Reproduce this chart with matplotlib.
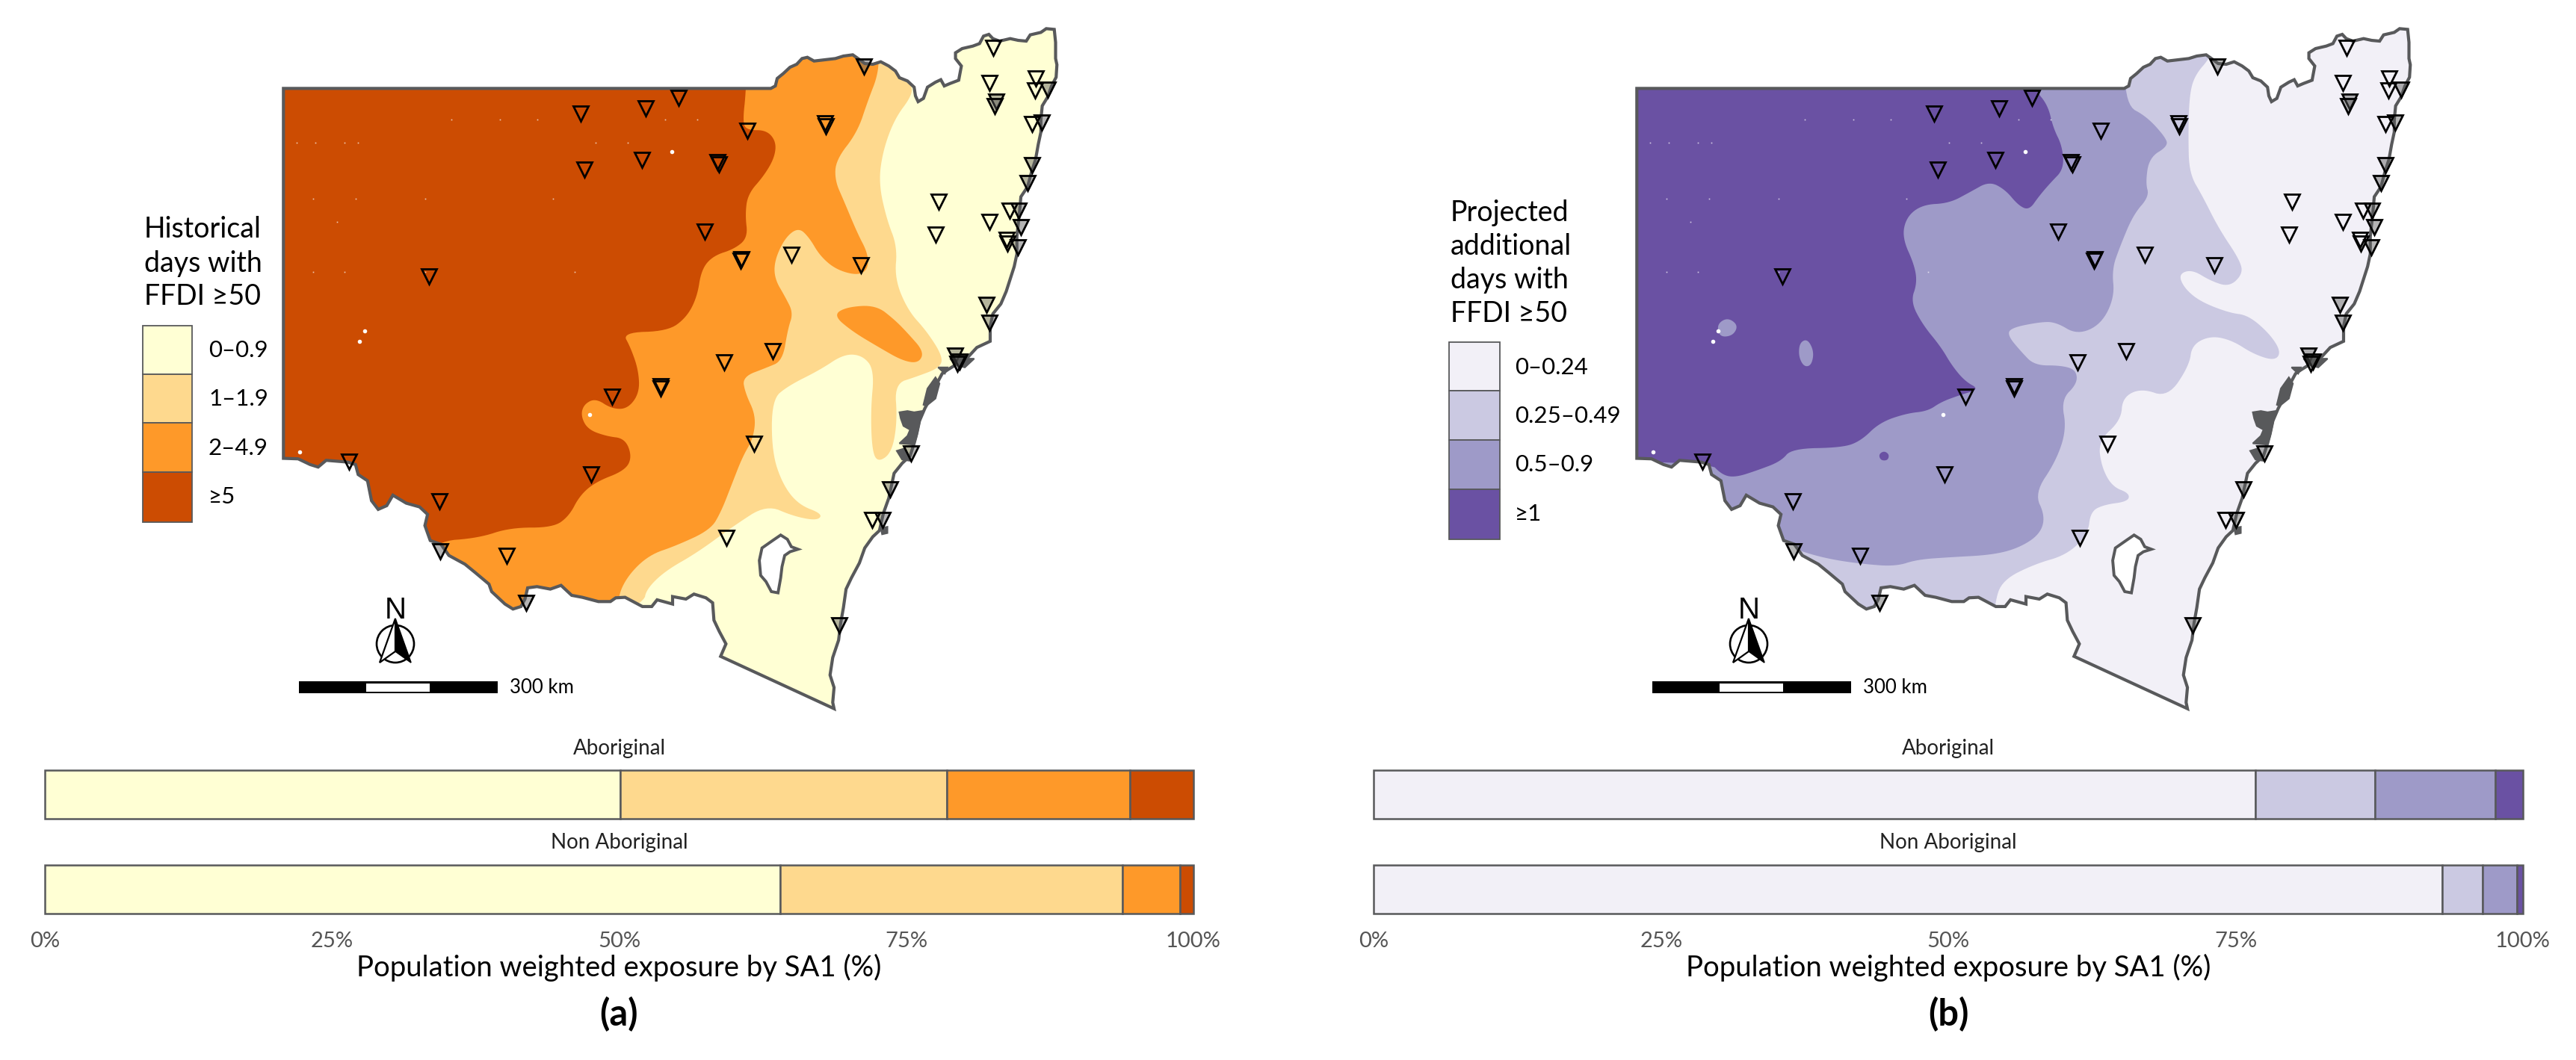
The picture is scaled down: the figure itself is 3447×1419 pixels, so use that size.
import numpy as np
import matplotlib
matplotlib.use('Agg')
import matplotlib.pyplot as plt
from matplotlib.patches import Polygon, Rectangle, Circle

plt.rcParams['font.family'] = ['Lato', 'DejaVu Sans']

W, H = 3448, 1419
GREY = '#58595b'

# exposure shares (%)
groups = ['Non Aboriginal', 'Aboriginal']
hist_aboriginal = [50.1, 28.4, 16.0, 5.5]
hist_non_aboriginal = [64.0, 29.8, 5.0, 1.2]
proj_aboriginal = [76.7, 10.4, 10.5, 2.4]
proj_non_aboriginal = [93.0, 3.5, 3.0, 0.5]
pct_ticks = [0, 25, 50, 75, 100]

hist_colors = ['#ffffd4', '#fed98e', '#fe9929', '#cc4c02']
proj_colors = ['#f2f0f7', '#cbc9e2', '#9e9ac8', '#6a51a3']
hist_labels = ['0–0.9', '1–1.9', '2–4.9', '≥5']
proj_labels = ['0–0.24', '0.25–0.49', '0.5–0.9', '≥1']

# state border traced in three crops of the map
border_ne = [(368,355),(385,345),(392,315),(415,295),(440,270),(465,258),(485,235),(505,230),(530,245),(570,240),
             (610,235),(640,225),(675,220),(695,235),(720,255),(750,258),(780,248),(810,265),(835,285),(850,312),
             (880,325),(905,350),(910,385),(920,408),(940,395),(955,350),(985,330),(1005,320),(1018,345),(1040,335),
             (1072,322),(1082,265),(1060,235),(1060,212),(1085,195),(1125,185),(1150,175),(1165,145),(1185,138),
             (1200,155),(1225,165),(1265,155),(1295,162),(1325,165),(1340,140),(1380,130),(1400,115),(1430,118),
             (1435,170),(1435,235),(1440,260),(1437,310),(1420,345),(1405,390),(1385,425),(1380,480),(1380,530),
             (1370,580),(1360,640),(1345,690),(1330,750),(1305,790),(1300,850),(1290,950),(1290,1020),(1280,1070),
             (1265,1120),(1250,1170),(1230,1220),(1200,1260),(1190,1310),(1190,1370),(1140,1395),(1110,1430)]
border_se = [(1060,25),(1030,45),(1010,60),(995,90),(985,130),(960,170),(945,200),(925,250),(915,300),(905,340),
             (890,390),(860,420),(830,460),(820,510),(810,560),(790,620),(775,690),(750,715),(720,760),(700,820),
             (670,880),(650,925),(640,1000),(630,1060),(622,1130),(600,1200),(590,1270),(605,1320),(600,1380),
             (605,1405),(180,1195),(200,1145),(175,1095),(155,1050),(150,980),(125,960),(80,945),(50,965),(0,955)]
border_sw = [(1568,985),(1510,968),(1490,995),(1455,995),(1420,975),(1390,958),(1355,960),(1335,975),(1290,975),
             (1230,958),(1190,950),(1150,910),(1110,925),(1060,915),(1025,920),(1015,965),(1000,995),(970,1005),
             (940,985),(890,935),(880,905),(830,860),(790,825),(730,790),(700,745),(660,730),(640,670),(650,625),
             (620,595),(570,580),(520,548),(497,590),(465,605),(440,570),(425,490),(390,465),(380,425),(350,415),
             (270,408),(240,435),(210,425),(165,402),(110,400),(110,-1085)]
lake = [(405,708),(430,725),(445,755),(470,765),(440,775),(420,790),(410,835),(405,880),(395,940),(370,935),
        (350,895),(330,870),(325,810),(335,760),(375,730)]
estuaries = [[(850,215),(880,210),(905,215),(935,210),(925,260),(915,310),(905,345),(850,340),(880,310),(890,285),
              (865,270),(855,240)],
             [(840,370),(870,360),(890,410),(860,405)],
             [(955,120),(985,75),(1000,100),(985,160),(950,190),(940,185)],
             [(995,35),(1030,35),(1020,60)],
             [(780,680),(805,675),(805,700),(785,705)],
             [(1040,0),(1130,0),(1095,35),(1060,25)]]

# historical classes
hist_light = [(1170,100),(1170,135),(1210,150),(1232,185),(1232,210),(1200,260),(1178,330),(1170,400),(1185,480),
              (1205,540),(1200,610),(1225,680),(1260,725),(1290,780),(1285,805),(1240,825),(1200,840),(1205,920),
              (1195,990),(1170,1012),(1158,990),(1155,900),(1162,810),(1140,778),(1105,775),(1060,810),(1000,845),
              (970,875),(970,990),(990,1060),(1020,1105),(1065,1125),(1055,1140),(1010,1130),(960,1105),(900,1150),
              (830,1210),(770,1250),(735,1290),(730,1320),(600,1400),(-300,1400),(-300,100)]
hist_mid = [(1170,100),(1170,160),(1150,220),(1130,290),(1090,350),(1088,395),(1105,440),(1130,510),(1150,555),
            (1150,590),(1130,603),(1090,590),(1060,560),(1040,520),(1020,498),(995,520),(975,570),(975,610),
            (995,650),(1010,685),(1000,720),(990,790),(960,805),(915,825),(920,860),(940,910),(935,960),(915,1000),
            (895,1060),(875,1120),(855,1160),(790,1195),(740,1215),(700,1260),(680,1310),(680,1400),(300,1400),
            (-300,1200),(-300,100)]
hist_mid_blob = [(1085,690),(1110,672),(1165,668),(1200,700),(1225,730),(1255,770),(1245,795),(1215,790),(1170,760),
                 (1120,725)]
hist_high = [(-300,100),(922,100),(922,195),(915,270),(925,285),(960,285),(978,310),(975,345),(955,385),(925,425),
             (920,470),(925,520),(900,545),(860,560),(838,590),(830,650),(810,695),(775,725),(690,728),(705,760),
             (720,810),(722,860),(700,895),(670,895),(640,872),(618,885),(612,910),(625,940),(660,955),(695,960),
             (708,1000),(695,1030),(640,1055),(610,1085),(590,1130),(560,1155),(480,1155),(420,1178),(340,1185),
             (300,1250),(-300,1250)]

# projected classes
proj_light = [(1130,100),(1130,125),(1100,165),(1090,210),(1088,300),(1090,380),(1115,430),(1145,500),(1185,570),
              (1190,600),(1165,628),(1130,615),(1095,590),(1070,600),(1080,630),(1110,660),(1165,685),(1200,690),
              (1240,730),(1262,770),(1250,790),(1210,775),(1170,745),(1130,735),(1095,755),(1090,800),(1050,870),
              (1000,850),(965,870),(962,920),(920,965),(925,1020),(945,1065),(978,1080),(975,1098),(930,1105),
              (905,1120),(900,1170),(860,1215),(800,1235),(740,1270),(725,1320),(725,1400),(-300,1400),(-300,100)]
proj_mid = [(-300,100),(970,100),(970,230),(1010,255),(1045,300),(1050,320),(1015,345),(1008,400),(1015,430),(985,470),
            (960,540),(945,590),(950,650),(925,710),(880,733),(840,705),(810,705),(755,718),(750,735),(775,770),
            (800,800),(850,800),(878,810),(880,840),(850,875),(860,940),(840,1010),(800,1080),(820,1130),(810,1170),
            (770,1200),(720,1215),(640,1220),(580,1225),(540,1240),(480,1235),(420,1225),(370,1210),(340,1195),
            (300,1300),(-300,1300)]
proj_high = [(-300,100),(800,100),(800,195),(825,230),(835,280),(852,320),(855,370),(830,400),(808,430),(790,460),
             (770,450),(745,415),(715,397),(680,420),(640,445),(590,448),(560,475),(552,520),(575,580),(580,620),
             (568,660),(590,710),(625,760),(645,800),(670,835),(697,852),(660,865),(625,880),(600,900),(560,905),
             (510,925),(475,965),(440,980),(345,982),(325,1010),(280,1030),(240,1045),(215,1040),(190,1010),(-300,1010)]
proj_mid_blobs = [[(205,710),(225,695),(245,712),(235,735),(210,738)],
                  [(360,750),(375,742),(387,770),(382,800),(368,803),(358,780)]]
proj_high_blob = [(508,995),(518,987),(528,995),(525,1008),(512,1008)]

# fire weather stations
inland_sites = [(1385,105),(1378,182),(1465,172),(1463,198),(795,215),(734,237),(612,249),(924,287),(1070,270),
                (1071,276),(1457,272),(619,371),(726,350),(868,355),(871,359),(844,507),(1282,441),(1415,462),
                (1378,486),(1277,513),(1410,525),(1411,533),(913,568),(912,570),(1006,558),(1137,580),(328,605),
                (971,768),(881,793),(762,845),(762,850),(671,869),(937,971),(178,1011),(631,1038),(347,1097),
                (1158,1139),(885,1178),(473,1216)]
coast_sites = [(1143,146),(1487,196),(1390,222),(1387,233),(1475,268),(1457,361),(1449,401),(1432,462),(1437,497),
               (1431,542),(1372,667),(1377,706),(1313,778),(1322,792),(1318,796),(1230,992),(1191,1072),(1177,1138),
               (349,1207),(509,1319),(1096,1369)]
white_spots = [(782,332),(207,725),(197,748),(628,908),(85,990)]
pale_specks = [(80,312),(115,312),(170,312),(195,312),(370,262),(460,262),(530,262),(640,312),(700,312),(770,262),
               (830,262),(110,435),(190,435),(320,435),(560,435),(155,485),(110,595),(170,595),(320,595),(600,595)]


def from_crop(points, x0, y0):
    # crop pixels -> map units (crops are 2.8x wide, 3x high)
    pts = np.array(points, dtype=float)
    x = x0 + pts[:, 0] / 2.8
    y = y0 + pts[:, 1] / 3
    return np.column_stack([(x - 340) * 1.4, y * 1.636])


def round_corners(points, passes=3):
    # corner cutting, the class edges are smooth contours in the original
    pts = np.array(points, dtype=float)
    for _ in range(passes):
        nxt = np.roll(pts, -1, axis=0)
        pts = np.column_stack([0.75 * pts + 0.25 * nxt, 0.25 * pts + 0.75 * nxt]).reshape(-1, 2)
    return pts


border = np.vstack([from_crop(border_ne, 900, 0), from_crop(border_se, 900, 480), from_crop(border_sw, 340, 480)])
lake_xy = from_crop(lake, 900, 480)
estuary_xy = [from_crop(e, 900, 480) for e in estuaries]


def draw_map(left, colors, layers):
    ax = fig.add_axes([left / W, 1 - 960 / H, 1120 / W, 960 / H])
    ax.set_xlim(0, 1568)
    ax.set_ylim(1570, 0)
    ax.axis('off')
    state = Polygon(border, closed=True, facecolor=colors[0], edgecolor='none', zorder=1)
    ax.add_patch(state)
    for color, pts in layers:
        p = Polygon(round_corners(pts), closed=True, facecolor=color, edgecolor='none', zorder=2)
        ax.add_patch(p)
        p.set_clip_path(state)
    for x, y in pale_specks:
        ax.plot(x, y, 's', color='#ffffff', ms=1.2, alpha=0.7, mew=0, zorder=3)
    for x, y in white_spots:
        ax.plot(x, y, 'o', color='white', ms=4, mew=0, zorder=3)
    for e in estuary_xy:
        ax.add_patch(Polygon(e, closed=True, facecolor=GREY, edgecolor=GREY, lw=1.5, zorder=4))
    ax.add_patch(Polygon(lake_xy, closed=True, facecolor='white', edgecolor=GREY, lw=2.8, zorder=4))
    ax.add_patch(Polygon(border, closed=True, facecolor='none', edgecolor=GREY, lw=3, zorder=4))
    cx, cy = zip(*coast_sites)
    ax.plot(cx, cy, 'v', ms=14.5, mfc=(0.35, 0.35, 0.35, 0.45), mec='black', mew=2, ls='none', zorder=5)
    ix, iy = zip(*inland_sites)
    ax.plot(ix, iy, 'v', ms=14.5, mfc='none', mec='black', mew=2, ls='none', zorder=5)
    return ax


def draw_bars(left, right, aboriginal, non_aboriginal, colors, tag):
    ax = fig.add_axes([left / W, 1 - 1223 / H, (right - left) / W, (1223 - 1031) / H])
    rows = [non_aboriginal, aboriginal]
    for y, vals in enumerate(rows):
        start = 0
        for v, c in zip(vals, colors):
            ax.barh(y, v, left=start, height=0.516, color=c, edgecolor=GREY, linewidth=1.8, clip_on=False)
            start += v
    ax.set_xlim(0, 100)
    ax.set_ylim(-0.258, 1.258)
    ax.set_yticks([])
    ax.set_xticks(pct_ticks)
    ax.set_xticklabels([f'{t}%' for t in pct_ticks], fontsize=21, color='#555555')
    ax.tick_params(axis='x', length=0, pad=17)
    for s in ax.spines.values():
        s.set_visible(False)
    mid = (left + right) / 2
    over.text(mid, 1002, groups[1], ha='center', va='center', fontsize=20, color='#222222')
    over.text(mid, 1128, groups[0], ha='center', va='center', fontsize=20, color='#222222')
    over.text(mid, 1295, 'Population weighted exposure by SA1 (%)', ha='center', va='center', fontsize=27.5, color='black')
    over.text(mid, 1358, tag, ha='center', va='center', fontsize=35, fontweight='bold', color='black')


def draw_legend(x0, sw_right, sw_edges, label_x, label_ys, labels, colors, title_lines, title_ys):
    for line, y in zip(title_lines, title_ys):
        over.text(x0 + 2, y, line, ha='left', va='center', fontsize=27, color='black')
    for i, c in enumerate(colors):
        over.add_patch(Rectangle((x0, sw_edges[i]), sw_right - x0, sw_edges[i + 1] - sw_edges[i],
                                 facecolor=c, edgecolor=GREY, lw=1.3))
        over.text(label_x, label_ys[i], labels[i], ha='left', va='center', fontsize=22.5, color='black')


def draw_north_scale(dx):
    cx = 529 + dx
    over.text(cx, 817, 'N', ha='center', va='center', fontsize=29, color='black', family='Liberation Sans')
    over.add_patch(Circle((cx, 862), 25, facecolor='none', edgecolor='black', lw=1.9))
    over.add_patch(Polygon([(cx, 828), (cx - 21, 887), (cx, 872)], closed=True, facecolor='white', edgecolor='black', lw=1.6))
    over.add_patch(Polygon([(cx, 828), (cx + 21, 887), (cx, 872)], closed=True, facecolor='black', edgecolor='black', lw=1.2))
    over.add_patch(Rectangle((400 + dx, 912), 266, 16, facecolor='black', edgecolor='none'))
    over.add_patch(Rectangle((490 + dx, 915), 85, 11, facecolor='white', edgecolor='none'))
    over.text(682 + dx, 921, '300 km', ha='left', va='center', fontsize=18.5, color='black')


fig = plt.figure(figsize=(W / 100, H / 100), dpi=100)
over = fig.add_axes([0, 0, 1, 1], zorder=10)
over.set_xlim(0, W)
over.set_ylim(H, 0)
over.axis('off')

draw_map(340, hist_colors, [(hist_colors[1], hist_light), (hist_colors[2], hist_mid),
                            (hist_colors[2], hist_mid_blob), (hist_colors[3], hist_high)])
draw_map(2151, proj_colors, [(proj_colors[1], proj_light), (proj_colors[2], proj_mid), (proj_colors[3], proj_high)]
         + [(proj_colors[2], b) for b in proj_mid_blobs] + [(proj_colors[3], proj_high_blob)])

draw_bars(60, 1597, hist_aboriginal, hist_non_aboriginal, hist_colors, '(a)')
draw_bars(1838.5, 3376, proj_aboriginal, proj_non_aboriginal, proj_colors, '(b)')

draw_legend(191, 257, [436, 501, 566, 632, 699], 279, [469, 534, 600, 665], hist_labels, hist_colors,
            ['Historical', 'days with', 'FFDI ≥50'], [307, 353, 397])
draw_legend(1939, 2007, [458, 523, 589, 655, 722], 2027, [492, 557, 622, 688], proj_labels, proj_colors,
            ['Projected', 'additional', 'days with', 'FFDI ≥50'], [285, 330, 375, 420])

draw_north_scale(0)
draw_north_scale(1811)

fig.savefig('out.png', dpi=100)
